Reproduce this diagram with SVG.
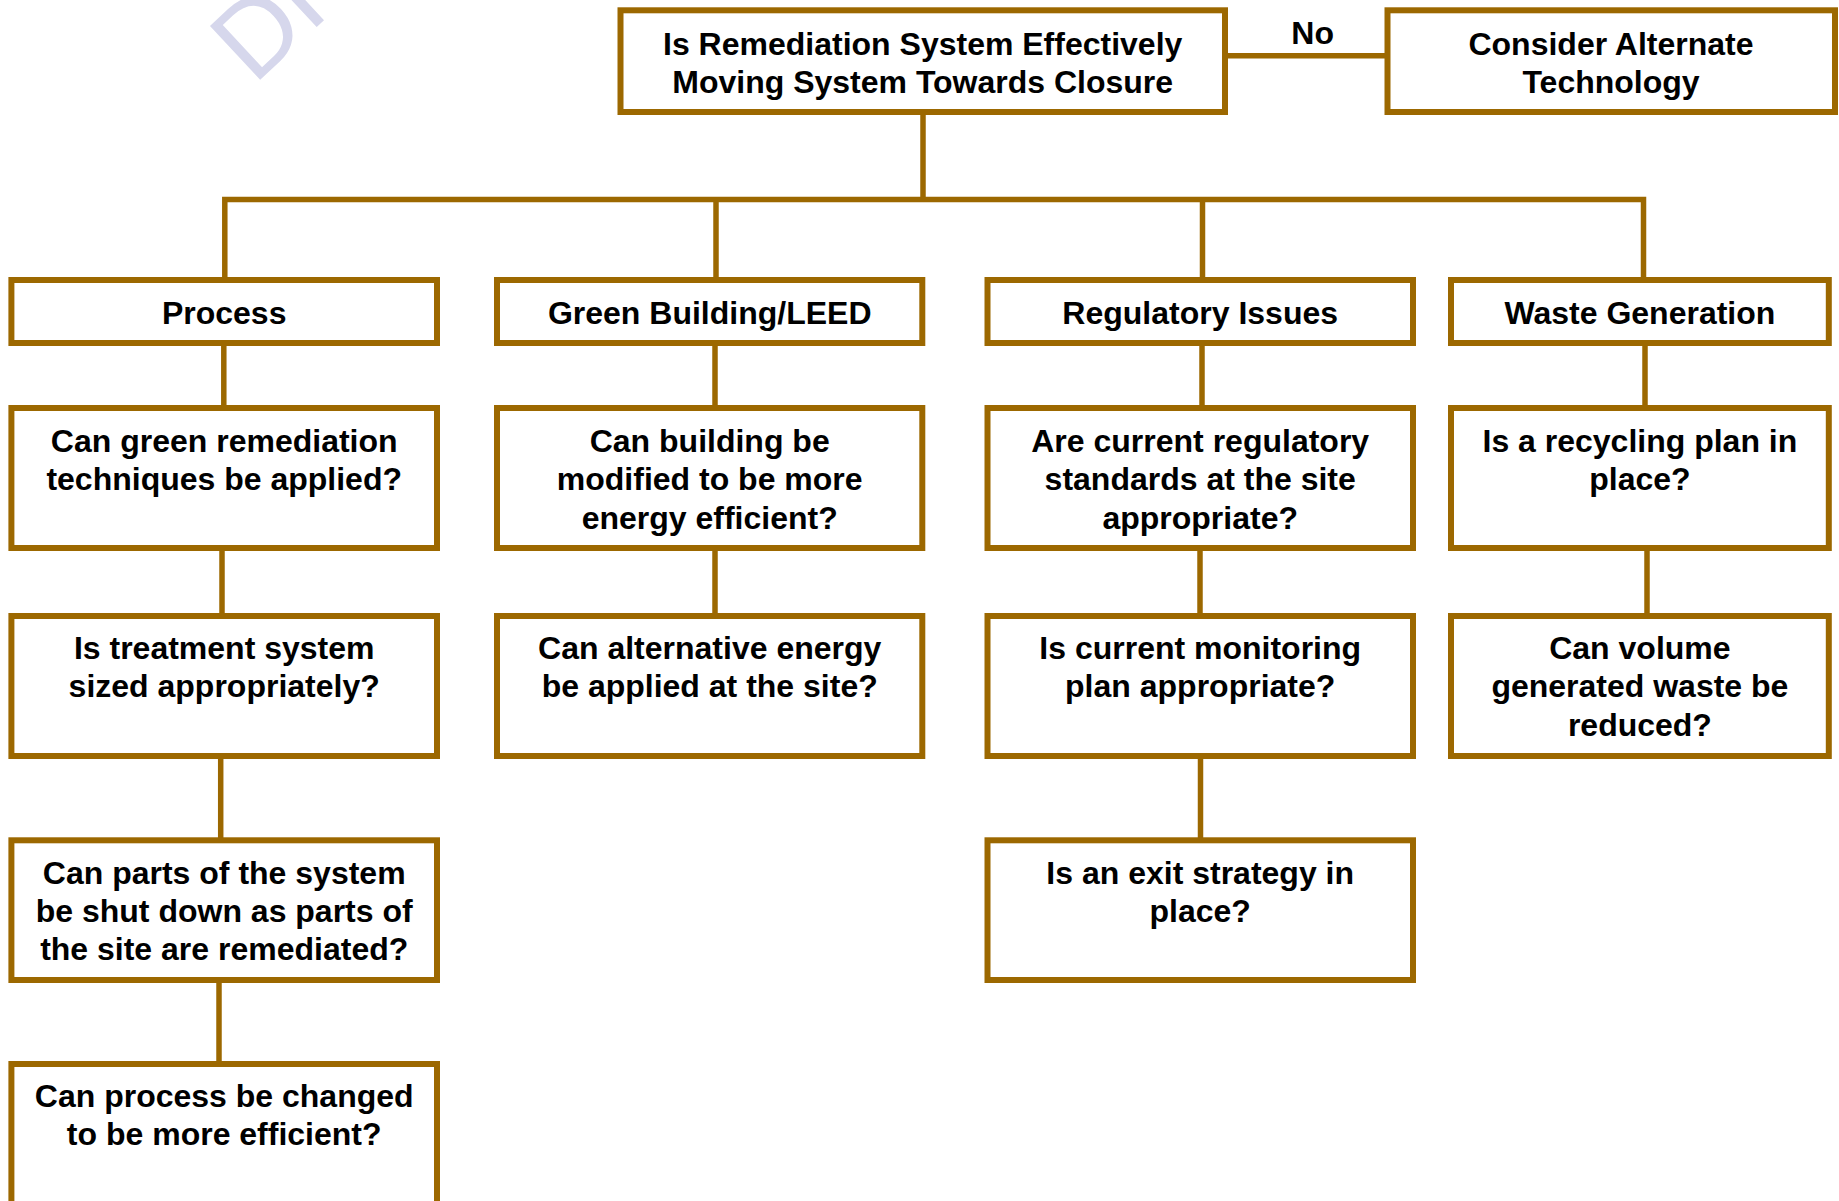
<svg xmlns="http://www.w3.org/2000/svg" width="1839" height="1201" viewBox="0 0 1839 1201">
<style>
.box{fill:#ffffff;stroke:#9C6800;stroke-width:6}
.con{fill:none;stroke:#9C6800;stroke-width:5.5}
.t{font-family:"Liberation Sans",Arial,sans-serif;font-weight:bold;font-size:32px;fill:#000;text-anchor:middle}
.wm{font-family:"Liberation Sans",Arial,sans-serif;font-size:107px;fill:#D6D7EC}
</style>
<rect width="1839" height="1201" fill="#ffffff"/>
<text class="wm" transform="translate(253.8,85.8) rotate(-43)">DRAFT</text>
<g id="connectors">
<path class="con" d="M923,112 V199.5"/>
<path class="con" d="M224.8,280 V199.5 H1643.5 V280"/>
<path class="con" d="M716,199.5 V280"/>
<path class="con" d="M1202.5,199.5 V280"/>
<path class="con" d="M1225,55.7 H1387.5"/>
<path class="con" d="M223.8,343 V408"/>
<path class="con" d="M222,548 V616"/>
<path class="con" d="M220.7,756 V840"/>
<path class="con" d="M219,980 V1064"/>
<path class="con" d="M715,343 V408"/>
<path class="con" d="M715,548 V616"/>
<path class="con" d="M1202,343 V408"/>
<path class="con" d="M1200,548 V616"/>
<path class="con" d="M1200.5,756 V840"/>
<path class="con" d="M1645,343 V408"/>
<path class="con" d="M1647,548 V616"/>
<text class="t" x="1312.7" y="44">No</text>
</g>
<g id="main">
<rect class="box" x="620.5" y="10.3" width="604.5" height="101.7"/>
<text class="t" x="922.7" y="54.5">Is Remediation System Effectively</text>
<text class="t" x="922.7" y="92.8">Moving System Towards Closure</text>
</g>
<g id="alternate">
<rect class="box" x="1387.5" y="10.3" width="447.5" height="101.7"/>
<text class="t" x="1611" y="54.5">Consider Alternate</text>
<text class="t" x="1611" y="92.8">Technology</text>
</g>
<g id="process">
<rect class="box" x="11.4" y="280" width="425.6" height="63"/>
<text class="t" x="224.2" y="323.8">Process</text>
</g>
<g id="green-building">
<rect class="box" x="497" y="280" width="425.3" height="63"/>
<text class="t" x="709.7" y="323.8">Green Building/LEED</text>
</g>
<g id="regulatory">
<rect class="box" x="987.5" y="280" width="425.5" height="63"/>
<text class="t" x="1200.2" y="323.8">Regulatory Issues</text>
</g>
<g id="waste">
<rect class="box" x="1451" y="280" width="377.8" height="63"/>
<text class="t" x="1639.9" y="323.8">Waste Generation</text>
</g>
<g id="p1">
<rect class="box" x="11.4" y="408" width="425.6" height="140"/>
<text class="t" x="224.2" y="452">Can green remediation</text>
<text class="t" x="224.2" y="490.3">techniques be applied?</text>
</g>
<g id="p2">
<rect class="box" x="11.4" y="616" width="425.6" height="140"/>
<text class="t" x="224.2" y="659">Is treatment system</text>
<text class="t" x="224.2" y="697.3">sized appropriately?</text>
</g>
<g id="p3">
<rect class="box" x="11.4" y="840.3" width="425.6" height="139.7"/>
<text class="t" x="224.2" y="883.5">Can parts of the system</text>
<text class="t" x="224.2" y="921.8">be shut down as parts of</text>
<text class="t" x="224.2" y="960.1">the site are remediated?</text>
</g>
<g id="p4">
<rect class="box" x="11.4" y="1064" width="425.6" height="160"/>
<text class="t" x="224.2" y="1107">Can process be changed</text>
<text class="t" x="224.2" y="1145.3">to be more efficient?</text>
</g>
<g id="g1">
<rect class="box" x="497" y="408" width="425.3" height="140"/>
<text class="t" x="709.7" y="452">Can building be</text>
<text class="t" x="709.7" y="490.3">modified to be more</text>
<text class="t" x="709.7" y="528.6">energy efficient?</text>
</g>
<g id="g2">
<rect class="box" x="497" y="616" width="425.3" height="140"/>
<text class="t" x="709.7" y="659">Can alternative energy</text>
<text class="t" x="709.7" y="697.3">be applied at the site?</text>
</g>
<g id="r1">
<rect class="box" x="987.5" y="408" width="425.5" height="140"/>
<text class="t" x="1200.2" y="452">Are current regulatory</text>
<text class="t" x="1200.2" y="490.3">standards at the site</text>
<text class="t" x="1200.2" y="528.6">appropriate?</text>
</g>
<g id="r2">
<rect class="box" x="987.5" y="616" width="425.5" height="140"/>
<text class="t" x="1200.2" y="659">Is current monitoring</text>
<text class="t" x="1200.2" y="697.3">plan appropriate?</text>
</g>
<g id="r3">
<rect class="box" x="987.5" y="840.3" width="425.5" height="139.7"/>
<text class="t" x="1200.2" y="883.5">Is an exit strategy in</text>
<text class="t" x="1200.2" y="921.8">place?</text>
</g>
<g id="w1">
<rect class="box" x="1451" y="408" width="377.8" height="140"/>
<text class="t" x="1639.9" y="452">Is a recycling plan in</text>
<text class="t" x="1639.9" y="490.3">place?</text>
</g>
<g id="w2">
<rect class="box" x="1451" y="616" width="377.8" height="140"/>
<text class="t" x="1639.9" y="659">Can volume</text>
<text class="t" x="1639.9" y="697.3">generated waste be</text>
<text class="t" x="1639.9" y="735.6">reduced?</text>
</g>
</svg>
